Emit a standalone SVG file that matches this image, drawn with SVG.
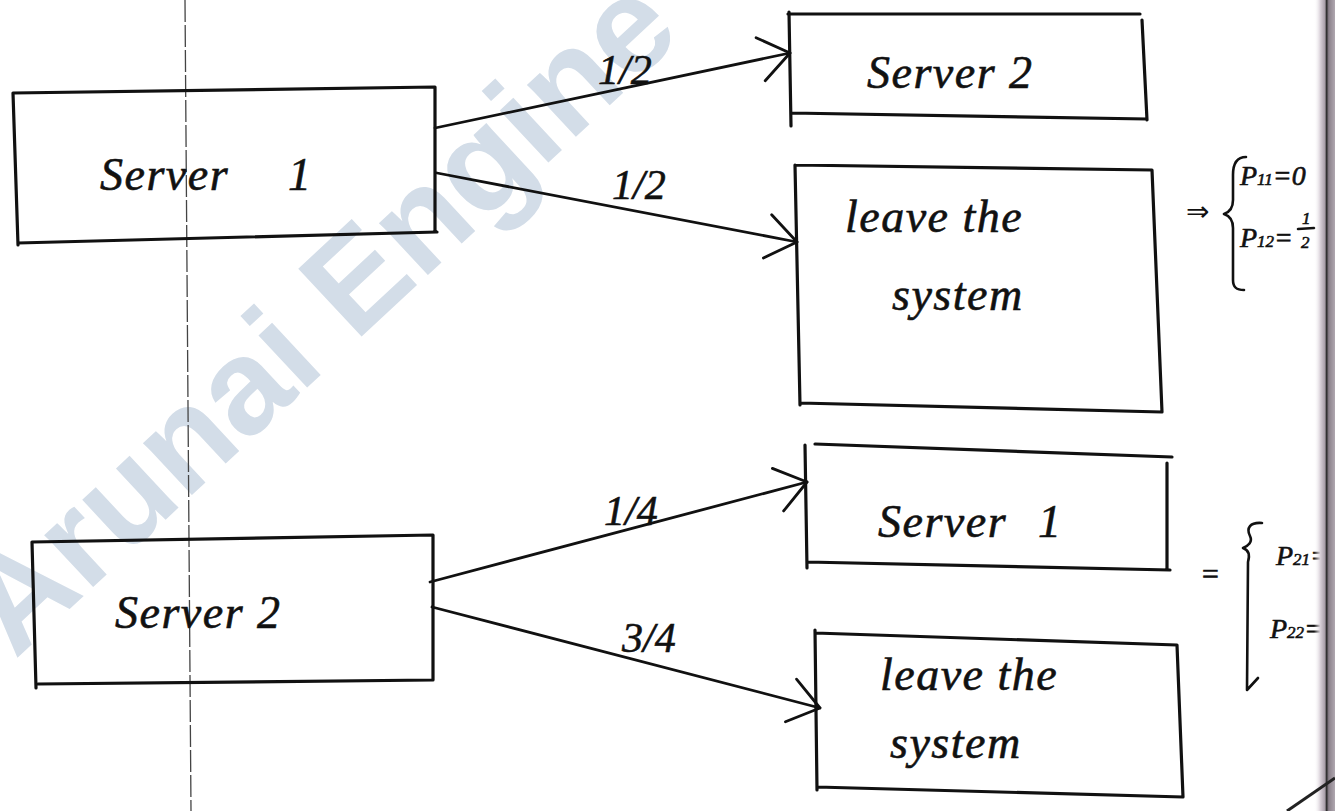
<svg xmlns="http://www.w3.org/2000/svg" width="1335" height="811" viewBox="0 0 1335 811">
  <defs>
    <style>
      .box { fill: none; stroke: #111; stroke-width: 3.2; stroke-linejoin: round; stroke-linecap: round; }
      .hand { font-family: "Liberation Serif", "DejaVu Serif", serif; font-style: italic; fill: #111; stroke: #111; stroke-width: 0.6; }
      .node-text { font-size: 46px; letter-spacing: 1.5px; }
      .lbl { font-size: 42px; }
      .note { font-size: 28px; }
      .edge { fill: none; stroke: #111; stroke-width: 2.8; stroke-linecap: round; }
      .ink { fill: none; stroke: #111; stroke-width: 2.6; stroke-linecap: round; stroke-linejoin: round; }
      .wm { font-family: "Liberation Sans", Arial, sans-serif; font-weight: bold; font-size: 135px; fill: #d3dde8; }
    </style>
    <marker id="open-arrow" markerUnits="userSpaceOnUse" markerWidth="44" markerHeight="50" refX="40" refY="25" orient="auto" overflow="visible">
      <path d="M10,3 L40,25 L10,47" fill="none" stroke="#111" stroke-width="2.8" stroke-linecap="round" stroke-linejoin="round"/>
    </marker>
    <linearGradient id="pageEdge" x1="0" y1="0" x2="1" y2="0">
      <stop offset="0" stop-color="#ffffff" stop-opacity="0"/>
      <stop offset="0.3" stop-color="#d8d0d8"/>
      <stop offset="0.52" stop-color="#a89ea8"/>
      <stop offset="0.6" stop-color="#2a2a2a"/>
      <stop offset="0.7" stop-color="#8a808a"/>
      <stop offset="1" stop-color="#b0a8b0"/>
    </linearGradient>
  </defs>

  <rect width="1335" height="811" fill="#ffffff"/>

  <!-- watermark -->
  <text class="wm" transform="translate(15,660) rotate(-43)">Arunai Engine</text>

  <!-- page fold line -->
  <line x1="185" y1="0" x2="191" y2="811" stroke="#444" stroke-width="1.3" stroke-dasharray="22 3"/>

  <g id="node-server1-src">
    <path class="box" d="M13,93 L435,87 L435,232 M437,232 L18,243 M13,93 L18,245"/>
    <text class="hand node-text" x="100" y="190">Server<tspan x="288">1</tspan></text>
  </g>

  <g id="node-server2-src">
    <path class="box" d="M32,542 L433,535 L433,680 L38,684 M32,542 L36,688"/>
    <text class="hand node-text" x="115" y="628">Server 2</text>
  </g>

  <g id="node-server2-dst">
    <path class="box" d="M788,14 L1140,14 M1142,20 L1147,120 M791,113 L1147,119 M789,12 L791,126"/>
    <text class="hand node-text" x="867" y="88">Server 2</text>
  </g>

  <g id="node-leave1">
    <path class="box" d="M795,165 L1152,170 L1162,412 M800,403 L1162,412 M795,165 L800,405"/>
    <text class="hand node-text" x="845" y="232">leave the</text>
    <text class="hand node-text" x="892" y="310">system</text>
  </g>

  <g id="node-server1-dst">
    <path class="box" d="M805,445 L807,568 M815,444 L1172,457 M1167,463 L1167,570 M807,562 L1170,570"/>
    <text class="hand node-text" x="878" y="537">Server<tspan x="1038">1</tspan></text>
  </g>

  <g id="node-leave2">
    <path class="box" d="M815,630 L817,790 M815,633 L1177,645 L1183,797 M817,787 L1183,797"/>
    <text class="hand node-text" x="880" y="690">leave the</text>
    <text class="hand node-text" x="890" y="758">system</text>
  </g>

  <g id="connectors">
    <line class="edge" x1="435" y1="128" x2="790" y2="53" marker-end="url(#open-arrow)"/>
    <line class="edge" x1="437" y1="173" x2="797" y2="242" marker-end="url(#open-arrow)"/>
    <line class="edge" x1="430" y1="582" x2="807" y2="482" marker-end="url(#open-arrow)"/>
    <line class="edge" x1="432" y1="607" x2="820" y2="708" marker-end="url(#open-arrow)"/>
    <text class="hand lbl" x="598" y="84">1/2</text>
    <text class="hand lbl" x="612" y="199">1/2</text>
    <text class="hand lbl" x="604" y="525">1/4</text>
    <text class="hand lbl" x="622" y="652">3/4</text>
  </g>

  <g id="note-p1">
    <text x="1186" y="221" font-family="DejaVu Sans, sans-serif" font-size="28" fill="#111">⇒</text>
    <path class="ink" d="M1246,157 C1236,157 1233,165 1233,175 L1233,200 C1233,208 1230,212 1224,214 C1230,216 1233,220 1233,228 L1233,280 C1233,287 1236,290 1244,290"/>
    <text class="hand note" x="1240" y="185">P<tspan font-size="17">11</tspan>=0</text>
    <text class="hand note" x="1240" y="247">P<tspan font-size="17">12</tspan>=</text>
    <text class="hand" font-size="17" x="1302" y="224">1</text>
    <line class="ink" x1="1298" y1="229" x2="1314" y2="228" stroke-width="2"/>
    <text class="hand" font-size="17" x="1301" y="248">2</text>
  </g>

  <g id="note-p2">
    <text class="hand" font-size="30" x="1200" y="584">=</text>
    <path class="ink" d="M1262,523 C1250,522 1246,528 1250,536 C1253,542 1248,546 1243,548 C1249,550 1250,555 1248,562 L1247,690 L1258,678"/>
    <text class="hand note" x="1276" y="565">P<tspan font-size="17">21</tspan>=</text>
    <text class="hand note" x="1270" y="638">P<tspan font-size="17">22</tspan>=</text>
  </g>

  <!-- photographed page edge -->
  <rect x="1314" y="0" width="21" height="811" fill="url(#pageEdge)"/>
  <line x1="1287" y1="811" x2="1335" y2="778" stroke="#222" stroke-width="3"/>
</svg>
